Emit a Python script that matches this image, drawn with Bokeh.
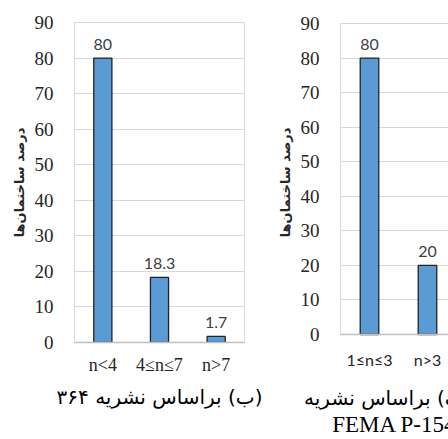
from bokeh.plotting import figure
from bokeh.layouts import row
from bokeh.models import Range1d, FixedTicker, LinearAxis, ColumnDataSource, Span
from bokeh.embed import file_html
from bokeh.resources import INLINE

# ---- data ----
left_cats = ["n<4", "4≤n≤7", "n>7"]
left_vals = [80, 18.3, 1.7]
right_cats = ["1≤n≤3", "n>3"]
right_vals = [80, 20]
y_ticks = [0, 10, 20, 30, 40, 50, 60, 70, 80, 90]
y_title = "درصد ساختمان‌ها"
left_caption = "\u200f(ب) براساس نشریه ۳۶۴\u200f"
right_caption = "\u200f(الف) براساس نشریه\u200f"
right_caption2 = "FEMA P-154"

BAR = "#5b9bd5"
GRID = "#d9d9d9"
SERIF = "Liberation Serif"
SANS = "Lato"
FA = "DejaVu Sans"

H = 439
TOP = 22
BOTTOM = 96


def make(cats, vals, width, mbl, mbr, xend, yr, cat_font, cat_size, cat_standoff):
    xs = [i + 0.5 for i in range(len(cats))]
    p = figure(width=width, height=H, x_range=Range1d(0, xend), y_range=yr,
               output_backend="svg", toolbar_location=None,
               min_border_left=mbl, min_border_right=mbr, min_border_top=TOP, min_border_bottom=BOTTOM)
    p.background_fill_color = "white"
    p.border_fill_color = "white"
    p.outline_line_color = GRID
    p.outline_line_width = 1
    src = ColumnDataSource(dict(x=xs, top=vals, lab=[f"{v:g}" for v in vals]))
    p.vbar(x="x", top="top", width=0.32, bottom=0, source=src,
           fill_color=BAR, line_color="#222222", line_width=1.3)
    p.text(x="x", y="top", text="lab", source=src, text_align="center",
           text_baseline="alphabetic", y_offset=-14, text_font_size="16px",
           text_font={"value": SANS}, text_color="#404040")
    # grid
    p.xgrid.grid_line_color = None
    p.ygrid.grid_line_color = GRID
    p.ygrid.ticker = FixedTicker(ticks=y_ticks)
    # y axis
    ya = p.yaxis[0]
    ya.ticker = FixedTicker(ticks=y_ticks)
    ya.axis_line_color = None
    ya.major_tick_line_color = None
    ya.minor_tick_line_color = None
    ya.major_label_text_font = SERIF
    ya.major_label_text_font_size = "19px"
    ya.major_label_text_color = "#262626"
    ya.major_label_standoff = 15
    ya.axis_label = y_title
    ya.axis_label_text_font = FA
    ya.axis_label_text_font_size = "13px"
    ya.axis_label_text_font_style = "bold"
    ya.axis_label_text_color = "#262626"
    ya.axis_label_standoff = 5
    # x axis
    xa = p.xaxis[0]
    xa.ticker = FixedTicker(ticks=xs)
    xa.major_label_overrides = {x: c for x, c in zip(xs, cats)}
    xa.axis_line_color = "#bfbfbf"
    xa.axis_line_width = 1.5
    xa.major_tick_line_color = None
    xa.minor_tick_line_color = None
    xa.major_label_text_font = cat_font
    xa.major_label_text_font_size = cat_size
    xa.major_label_text_color = "#262626"
    xa.major_label_standoff = cat_standoff
    xa.axis_label_text_font = FA
    xa.axis_label_text_font_size = "20px"
    xa.axis_label_text_font_style = "normal"
    xa.axis_label_text_color = "#000000"
    return p, xa, ya


# left chart: frame 74..244 x 22..343
p1, xa1, ya1 = make(left_cats, left_vals, 268, 74, 24, 3, Range1d(0, 90), SERIF, "18px", 6)
xa1.axis_label = left_caption
xa1.axis_label_standoff = 7

# right chart: value 90 at y=23, value 0 at y=335 while the shared frame spans 22..343
px_per = (335 - 23) / 90.0
r_lo = -(343 - 335) / px_per
r_hi = 90 + (23 - 22) / px_per
p2, xa2, ya2 = make(right_cats, right_vals, 180, 72, 0, 108 / 58, Range1d(r_lo, r_hi), SANS, "16px", 1)
p2.outline_line_color = None
ya2.axis_line_color = GRID
ya2.bounds = (0, 90)
xa2.axis_line_color = None
p2.add_layout(Span(location=0, dimension="width", line_color="#bfbfbf", line_width=1.5))
xa2.axis_label = right_caption
xa2.axis_label_standoff = 14
ax_extra = LinearAxis(ticker=FixedTicker(ticks=[]), axis_label=right_caption2,
                      axis_line_color=None, major_tick_line_color=None, minor_tick_line_color=None,
                      axis_label_text_font=SERIF, axis_label_text_font_size="23px",
                      axis_label_text_font_style="normal", axis_label_text_color="#000000",
                      axis_label_standoff=-1)
p2.add_layout(ax_extra, "below")

layout = row(p1, p2)
open("out.html", "w").write(file_html(layout, INLINE))
